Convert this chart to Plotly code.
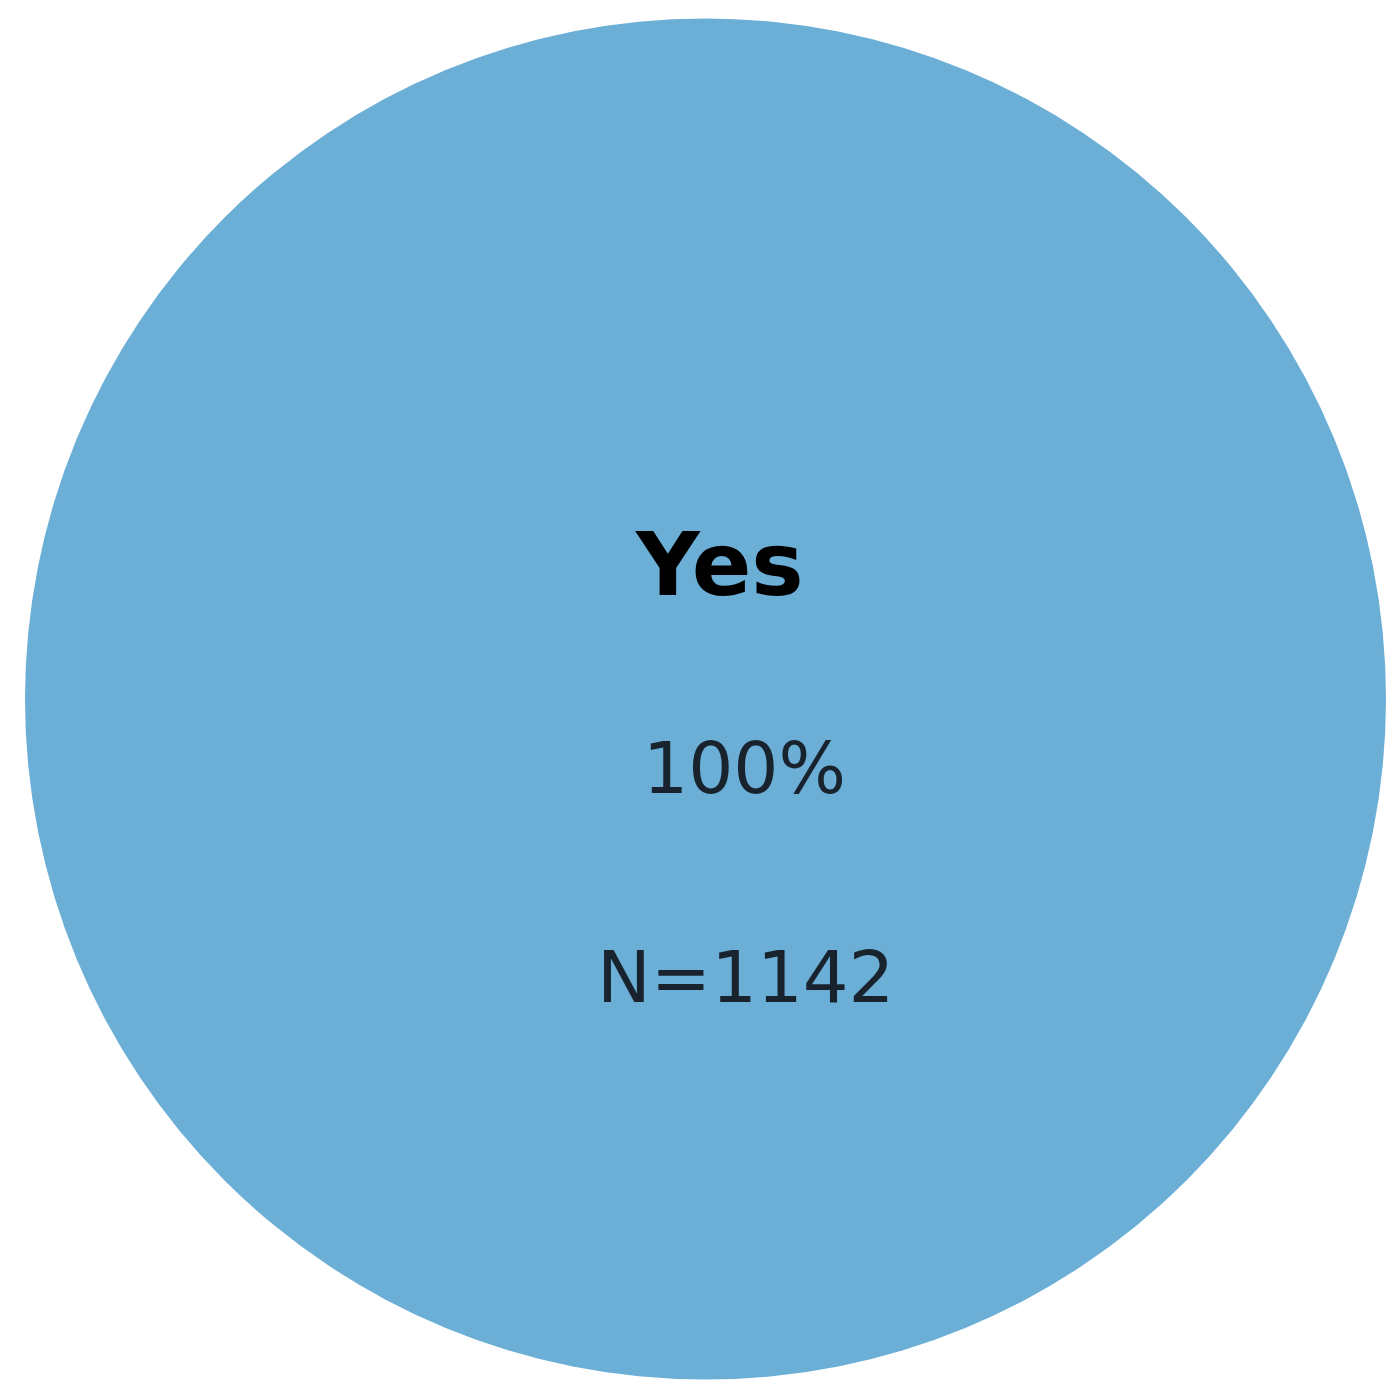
import plotly.graph_objects as go

labels = ["Yes"]
counts = [1142]
pct_labels = ["100%"]
n_labels = ["N=1142"]

W, H = 1386, 1382

fig = go.Figure(go.Pie(
    labels=labels,
    values=counts,
    marker=dict(colors=["#6baed6"], line=dict(width=0)),
    textinfo="none",
    hoverinfo="label+percent",
    sort=False,
    showlegend=False,
    domain=dict(x=[25 / W, 1.0], y=[1 - 1380 / H, 1 - 18 / H]),
))

font_family = "DejaVu Sans"
fig.add_annotation(x=720 / W, y=1 - 564 / H, xref="paper", yref="paper",
                   text="<b>" + labels[0] + "</b>", showarrow=False,
                   xanchor="center", yanchor="middle",
                   font=dict(family=font_family, size=88, color="#000000"))
fig.add_annotation(x=744 / W, y=1 - 769 / H, xref="paper", yref="paper",
                   text=pct_labels[0], showarrow=False,
                   xanchor="center", yanchor="middle",
                   font=dict(family=font_family, size=71, color="#18232e"))
fig.add_annotation(x=745 / W, y=1 - 977 / H, xref="paper", yref="paper",
                   text=n_labels[0], showarrow=False,
                   xanchor="center", yanchor="middle",
                   font=dict(family=font_family, size=72, color="#18232e"))

fig.update_layout(
    width=W, height=H,
    margin=dict(l=0, r=0, t=0, b=0),
    paper_bgcolor="white",
    plot_bgcolor="white",
)

fig.write_html("out.html",
               config={"displayModeBar": False},
               post_script="document.body.style.margin='0';document.body.style.overflow='hidden';")
